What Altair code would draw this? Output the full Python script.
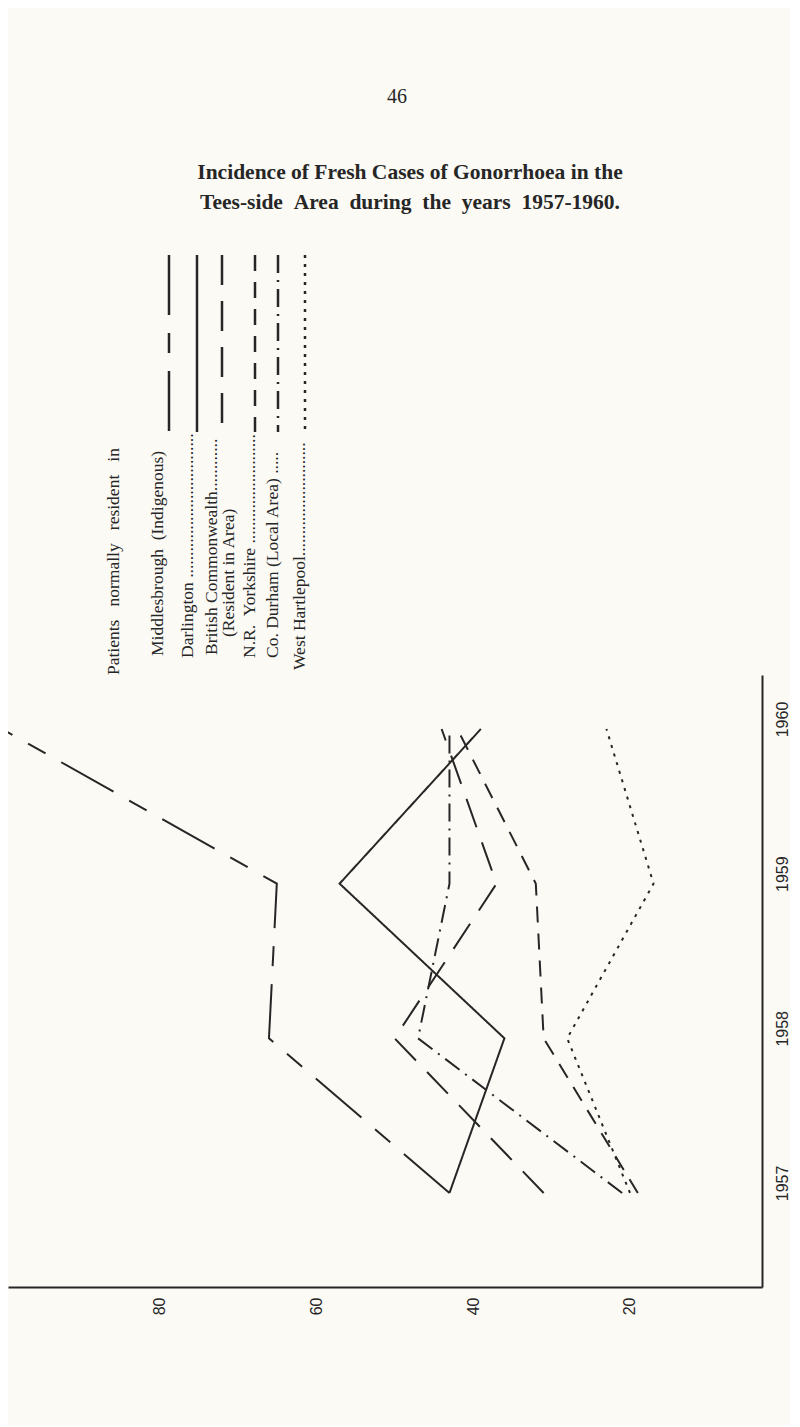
import altair as alt
import pandas as pd

# ---------------- data ----------------
YEARS = [1957, 1958, 1959, 1960]
SERIES = [
    "Middlesbrough (Indigenous)",
    "Darlington",
    "British Commonwealth (Resident in Area)",
    "N.R. Yorkshire",
    "Co. Durham (Local Area)",
    "West Hartlepool",
]
MIDDLESBROUGH = [43, 66, 65, 100]
DARLINGTON = [43, 36, 57, 39]
BRITISH_COMMONWEALTH = [31, 50, 37, 44]
NR_YORKSHIRE = [19, 31, 32, 42]
CO_DURHAM = [21, 47, 43, 43]
WEST_HARTLEPOOL = [20, 28, 17, 23]
VALUE_TICKS = [20, 40, 60, 80]

PAGE_NUMBER = "46"
TITLE_LINES = [
    "Incidence of Fresh Cases of Gonorrhoea in the",
    "Tees-side\u2002Area\u2002during\u2002the\u2002years\u20021957-1960.",
]
LEGEND_TITLE = "Patients\u2002 normally\u2002 resident\u2002 in"
LEGEND_TEXTS = [
    "Middlesbrough\u2002(Indigenous)",
    "Darlington " + "." * 33,
    "British Commonwealth" + "." * 12,
    "(Resident in Area)",
    "N.R.\u2002Yorkshire " + "." * 25,
    "Co. Durham (Local Area) " + "." * 5,
    "West Hartlepool" + "." * 26,
]

# ---------------- styling / layout (page pixels) ----------------
INK = "#262626"
BG = "#fbfaf5"
SERIF = "Liberation Serif"
SANS = "Liberation Sans"
DASHES = [[60, 18, 20, 18], [1, 0], [30, 16], [16, 11], [18, 7, 2, 7], [3, 6]]
M = 8                      # page margin
PLOT_TOP, PLOT_BOTTOM, PLOT_RIGHT = 662, 1274, 762
PLOT_W = PLOT_RIGHT - M
PLOT_H = PLOT_BOTTOM - PLOT_TOP
TOP_H = PLOT_TOP - M

PAGE_NO_POS = (397, 103)
TITLE_X, TITLE_Y = 410, [179, 209]
LEG_TEXT_X = [114, 158, 188, 212, 229, 250, 273, 300]
LEG_TEXT_Y = [675, 656, 658, 655, 637, 658, 658, 670]
LEG_SAMPLE_X = [169, 197, 222, 255, 278, 305]
LEG_SAMPLE_TOP, LEG_SAMPLE_BOTTOM = 255, 432

# ---------------- tables ----------------
values = [MIDDLESBROUGH, DARLINGTON, BRITISH_COMMONWEALTH, NR_YORKSHIRE, CO_DURHAM, WEST_HARTLEPOOL]
df = pd.DataFrame(
    [{"series": s, "year": y, "cases": v} for s, vals in zip(SERIES, values) for y, v in zip(YEARS, vals)]
)
page_df = pd.DataFrame({"text": [PAGE_NUMBER]})
title_df = pd.DataFrame({"text": TITLE_LINES, "row": [0, 1]})
leg_text_df = pd.DataFrame({
    "text": [LEGEND_TITLE] + LEGEND_TEXTS,
    "tx": [x - M for x in LEG_TEXT_X],
    "ty": [y - M for y in LEG_TEXT_Y],
})
leg_sample_df = pd.DataFrame({
    "series": SERIES,
    "sx": [x - M for x in LEG_SAMPLE_X],
    "sy": [LEG_SAMPLE_TOP - M] * len(SERIES),
    "sy2": [LEG_SAMPLE_BOTTOM - M] * len(SERIES),
})

dash_scale = alt.Scale(domain=SERIES, range=DASHES)

# ---------------- header + legend panel ----------------
page_no = alt.Chart(page_df).mark_text(
    font=SERIF, fontSize=20, color=INK, align="center", baseline="alphabetic"
).encode(
    x=alt.value(PAGE_NO_POS[0] - M), y=alt.value(PAGE_NO_POS[1] - M), text="text:N"
)
title = alt.Chart(title_df).mark_text(
    font=SERIF, fontSize=21.5, fontWeight="bold", color=INK, align="center", baseline="alphabetic"
).encode(
    x=alt.value(TITLE_X - M),
    y=alt.Y("row:O", scale=alt.Scale(type="point", domain=[0, 1], padding=0,
                                     range=[TITLE_Y[0] - M, TITLE_Y[1] - M]), axis=None),
    text="text:N",
)
leg_text = alt.Chart(leg_text_df).mark_text(
    angle=270, align="left", baseline="middle", font=SERIF, fontSize=17.5, color=INK
).encode(
    x=alt.X("tx:Q", scale=None, axis=None),
    y=alt.Y("ty:Q", scale=None, axis=None),
    text="text:N",
)
leg_samples = alt.Chart(leg_sample_df).mark_rule(color=INK, strokeWidth=2.5).encode(
    x=alt.X("sx:Q", scale=None, axis=None),
    y=alt.Y("sy:Q", scale=None, axis=None),
    y2="sy2:Q",
    strokeDash=alt.StrokeDash("series:N", scale=dash_scale, legend=None),
)
top = alt.layer(page_no, title, leg_text, leg_samples).resolve_scale(y="independent").properties(
    width=PLOT_W, height=TOP_H
)

# ---------------- main plot ----------------
lines = alt.Chart(df).mark_line(color=INK, strokeWidth=2, clip=True).encode(
    x=alt.X(
        "cases:Q",
        scale=alt.Scale(domain=[3.18, 99.25], reverse=True, nice=False, zero=False),
        axis=alt.Axis(
            values=VALUE_TICKS, labelAngle=270, labelAlign="right", labelBaseline="middle",
            ticks=False, domainWidth=2, domainColor=INK, labelFont=SANS, labelFontSize=16,
            labelColor=INK, labelPadding=10, title=None, grid=False, labelFlush=False,
            labelOverlap=False,
        ),
    ),
    y=alt.Y(
        "year:Q",
        scale=alt.Scale(domain=[1956.392, 1960.349], nice=False, zero=False),
        axis=alt.Axis(
            orient="right", values=YEARS, format="d", labelAngle=270, labelAlign="center",
            labelBaseline="top", ticks=False, domainWidth=2, domainColor=INK, labelFont=SANS,
            labelFontSize=16, labelColor=INK, labelPadding=12, title=None, grid=False,
            labelOffset=-10, labelFlush=False, labelOverlap=False,
        ),
    ),
    strokeDash=alt.StrokeDash("series:N", scale=dash_scale, legend=None),
    detail="series:N",
    order="year:Q",
).properties(width=PLOT_W, height=PLOT_H)

chart = alt.vconcat(top, lines, spacing=0).properties(
    padding={"top": 0, "left": 0, "right": 0, "bottom": 110},
    background=BG,
).configure_view(stroke=None)

chart.save("out.html", embed_options={"renderer": "svg", "actions": False})
